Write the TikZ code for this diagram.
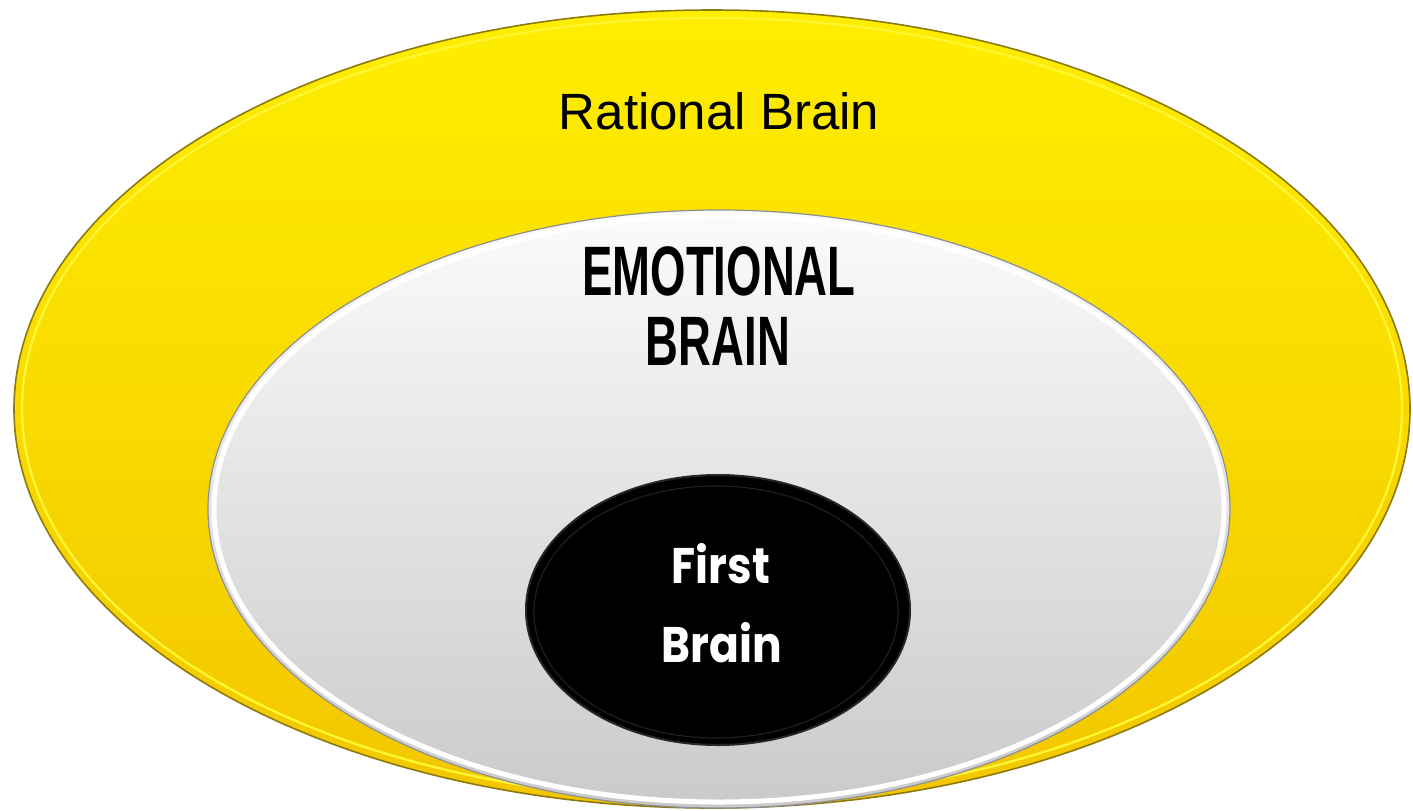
\documentclass[tikz,border=0pt]{standalone}
\usepackage{fontspec}
\usetikzlibrary{shapes.geometric}
\newfontfamily\ratfont{Liberation Sans}
\newfontfamily\emofont[FakeStretch=0.65]{Liberation Sans Bold}
\newfontfamily\firstfont[FakeStretch=0.88]{Poppins Bold}
\definecolor{yelTop}{HTML}{FFEE00}
\definecolor{yelBot}{HTML}{F2C600}
\definecolor{yelEdge}{HTML}{8C7A10}
\definecolor{yelHi}{HTML}{FFF530}
\definecolor{whTop}{HTML}{FBFBFB}
\definecolor{whBot}{HTML}{CACACA}
\definecolor{whEdge}{HTML}{8E8E96}
\tikzset{
  ovalbase/.style={ellipse, inner sep=0pt, outer sep=0pt},
  rationalshape/.style={ovalbase, top color=yelTop, bottom color=yelBot, draw=yelEdge, line width=0.8pt},
  emotionalshape/.style={ovalbase, top color=whTop, bottom color=whBot, draw=whEdge, line width=0.6pt},
  firstshape/.style={ovalbase, fill=black, draw=black!85, line width=1pt},
  ratlabel/.style={font=\ratfont\fontsize{25.5}{30}\selectfont, text=black, anchor=base, inner sep=0pt},
  emolabel/.style={font=\emofont\fontsize{35}{35}\selectfont, text=black, anchor=base, inner sep=0pt},
  firstlabel/.style={font=\firstfont\fontsize{25}{25}\selectfont, text=white, anchor=base, inner sep=0pt},
}
\begin{document}
\begin{tikzpicture}[x=0.5pt,y=-0.5pt]
\useasboundingbox (0,0) rectangle (1413,810);
% outer yellow oval
\node[rationalshape, minimum width=698pt, minimum height=399pt] (rational) at (712,409) {};
\draw[yelHi, line width=1.2pt] (712,409) ellipse [x radius=690, y radius=391];
% middle white oval
\node[emotionalshape, minimum width=511pt, minimum height=299pt] (emotional) at (719,509) {};
\draw[white, line width=2.5pt] (719,509) ellipse [x radius=505, y radius=293];
% inner black oval
\node[firstshape, minimum width=192pt, minimum height=135pt] (first) at (718,610) {};
\draw[black!88!white, line width=0.6pt] (716,612) ellipse [x radius=182, y radius=126];
% labels
\node[ratlabel] (ratText) at (719,129) {Rational Brain};
\node[emolabel] (emoText1) at (719,295) {EMOTIONAL};
\node[emolabel] (emoText2) at (718,365) {BRAIN};
\node[firstlabel] (firstText1) at (721,583) {First};
\node[firstlabel] (firstText2) at (722,662) {Brain};
\end{tikzpicture}
\end{document}
